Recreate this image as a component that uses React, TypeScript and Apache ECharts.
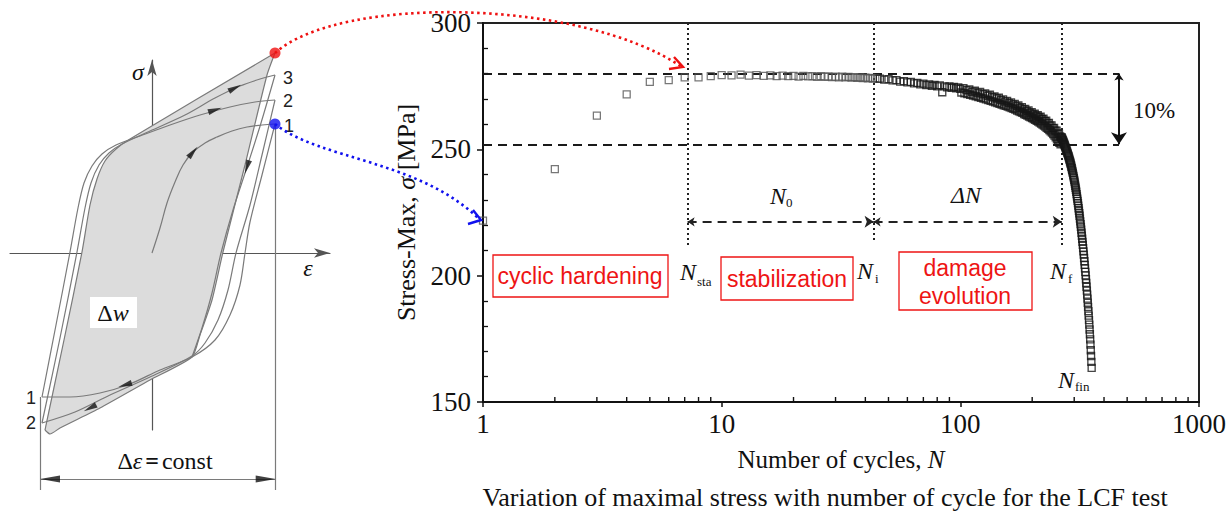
import React, { useEffect, useRef } from "react";
import * as echarts from "echarts";

// ---------------- LCF test data ----------------
// cyclic hardening
const hardeningN = [1, 2, 3, 4, 5, 6, 7];
const hardeningS = [221.8, 242.2, 263.3, 271.8, 276.7, 277.4, 278.5];
// stabilization
const stableN = [8, 9, 10, 11, 12, 13, 14, 15, 16, 17, 18, 19, 20, 21, 22, 23, 24, 25, 26, 27, 28, 29, 30, 31, 32, 33, 34, 35, 36, 37, 38, 39, 40, 41, 42, 43, 44, 45];
const stableS = [278.5, 279.0, 279.4, 279.3, 279.6, 279.2, 279.4, 279.1, 279.3, 279.0, 279.2, 279.0, 279.1, 278.8, 279.1, 278.9, 279.0, 278.7, 279.0, 278.7, 278.9, 278.6, 278.8, 278.5, 278.8, 278.5, 278.7, 278.4, 278.6, 278.3, 278.5, 278.2, 278.4, 278.1, 278.3, 278.0, 278.2, 277.9];
// damage evolution (upper side of the band)
const damageN = [46, 48, 50, 52, 54, 56, 58, 60, 62, 64, 66, 68, 70, 72, 74, 76, 78, 80, 82, 84, 86, 88, 90, 92, 94, 96, 98, 100,
  103, 106, 109, 112, 115, 118, 121, 124, 127, 130, 133, 136, 139, 142, 145, 148, 151, 154, 157, 160, 163, 166, 169, 172, 175, 178, 181, 184, 187, 190,
  193, 196, 199, 202, 205, 208, 211, 214, 217, 220, 223, 226, 229, 232, 235, 238, 241, 244, 247, 250, 253, 256, 259, 262, 265];
const damageS = [278.0, 277.6, 277.8, 277.3, 277.4, 276.8, 277.0, 276.5, 276.7, 276.1, 276.3, 275.7, 276.0, 275.4, 275.7, 275.1, 275.5, 274.9, 275.3, 272.6, 274.9, 274.5, 274.9, 274.3, 274.7, 274.1, 274.5, 273.9,
  274.2, 273.4, 273.7, 272.8, 273.2, 272.3, 272.7, 271.8, 272.1, 271.2, 271.6, 270.6, 270.9, 270.1, 270.4, 269.5, 269.8, 268.9, 269.2, 268.3, 268.6, 267.7, 268.0, 267.1, 267.4, 266.4, 266.7, 265.8, 266.0, 265.1,
  265.4, 264.4, 264.7, 263.8, 264.1, 263.2, 263.5, 262.6, 262.9, 261.9, 262.1, 261.1, 261.3, 260.3, 260.5, 259.4, 259.5, 258.4, 258.5, 257.4, 257.4, 256.3, 256.1, 255.1, 254.8];
// damage evolution (lower side of the band)
const damageLowN = [101, 104, 107, 110, 113, 116, 119, 122, 125, 128, 131, 134, 137, 140, 143, 146, 149, 152, 155, 158, 161, 164, 167, 170, 173, 176, 179, 182, 185, 188,
  191, 194, 197, 200, 203, 206, 209, 212, 215, 218, 221, 224, 227, 230, 233, 236, 239, 242, 245, 248, 251, 254, 257, 260, 263];
const damageLowS = [272.5, 272.2, 271.9, 271.6, 271.3, 271.0, 270.7, 270.4, 270.1, 269.8, 269.5, 269.2, 268.9, 268.6, 268.3, 268.0, 267.7, 267.4, 267.2, 266.9, 266.6, 266.3, 266.0, 265.7, 265.3, 265.0, 264.7, 264.4, 264.0, 263.7,
  263.4, 263.0, 262.7, 262.4, 262.0, 261.7, 261.3, 261.0, 260.6, 260.2, 259.8, 259.4, 259.0, 258.5, 258.1, 257.6, 257.1, 256.6, 256.0, 255.4, 254.8, 254.0, 253.2, 252.6, 252.0];
// final fracture
const fractureN = [266, 267, 268, 269, 270, 271, 272, 273, 274, 275, 276, 277, 278, 279, 280, 281, 282, 283, 284, 285, 286, 287, 288, 289, 290, 291, 292, 293, 294, 295,
  296, 297, 298, 299, 300, 301, 302, 303, 304, 305, 306, 307, 308, 309, 310, 311, 312, 313, 314, 315, 316, 317, 318, 319, 320, 321, 322, 323, 324, 325,
  326, 327, 328, 329, 330, 331, 332, 333, 334, 335, 336, 337, 338, 339, 340, 341, 342, 343, 344, 345, 346, 347, 348, 349, 350, 351, 352, 353, 354, 355];
const fractureS = [254.6, 254.2, 253.8, 253.5, 253.1, 252.7, 252.3, 251.9, 251.5, 251.1, 250.7, 250.3, 249.9, 249.5, 249.1, 248.6, 248.2, 247.7, 247.3, 246.8, 246.3, 245.8, 245.3, 244.8, 244.3, 243.7, 243.1, 242.5, 241.9, 241.3,
  240.7, 240.0, 239.3, 238.6, 237.9, 237.2, 236.4, 235.6, 234.8, 234.0, 233.2, 232.3, 231.4, 230.5, 229.6, 228.7, 227.7, 226.7, 225.7, 224.7, 223.7, 222.6, 221.5, 220.4, 219.3, 218.2, 217.0, 215.8, 214.6, 213.4,
  212.2, 210.9, 209.6, 208.3, 207.0, 205.7, 204.3, 202.9, 201.5, 200.1, 198.6, 197.1, 195.6, 194.1, 192.5, 190.9, 189.3, 187.6, 185.9, 184.2, 182.4, 180.6, 178.7, 176.8, 174.8, 172.7, 170.5, 168.2, 165.9, 163.5];

// axes
const yMin = 150;
const yMax = 300;
const yStep = 50;
const xMin = 1;
const xMax = 1000;
const minorTicksX = [2, 3, 4, 5, 6, 7, 8, 9, 20, 30, 40, 50, 60, 70, 80, 90, 200, 300, 400, 500, 600, 700, 800, 900];

// annotation levels
const stableStress = 280;
const dropStress = 252; // 10 % below the stabilized level
const tenPctN = 462;
const phaseBounds = [7.2, 43.3, 266]; // N_sta, N_i, N_f
const phaseGuideBottom = [211.5, 214, 212];
const phaseArrowStress = 221.3;

// ---------------- hysteresis schematic (strain / stress, arbitrary units) ----------------
const monotonicPath = [[0, 0], [8, 25], [15, 50], [23, 71], [31, 88], [41, 101], [53, 110], [65, 116], [80, 122], [95, 126], [110, 128], [123, 129]];
const loop1Down = [[123, 129], [110, 78], [98, 31], [93, 0], [88, -32], [78, -62], [63, -87], [40, -104], [8, -117], [-22, -131], [-52, -140], [-82, -144], [-110, -144]];
const loop1Up = [[-110, -144], [-96, -72], [-82, 1], [-74, 45], [-68, 70], [-60, 87], [-50, 99], [-36, 108], [-12, 117], [18, 128], [48, 138], [78, 146], [103, 151], [123, 153]];
const loop2Down = [[123, 153], [110, 98], [98, 48], [84, 0], [76, -37], [66, -67], [53, -90], [40, -103], [-2, -124], [-42, -142], [-77, -159], [-110, -170]];
const loop2Up = [[-110, -170], [-92, -85], [-75, 1], [-67, 45], [-61, 70], [-53, 88], [-43, 100], [-30, 109], [-2, 122], [33, 138], [63, 155], [88, 167], [108, 174], [123, 178]];
const loop3Down = [[123, 178], [109, 130], [95, 86], [81, 43], [69, 0], [60, -40], [50, -75], [40, -104]];
const stabDown = [[123, 200], [115, 178], [93, 88], [71, 1], [60, -47], [48, -82], [40, -104], [-2, -127], [-52, -155], [-92, -175], [-102, -181], [-107, -177]];
const stabUp = [[-107, -177], [-88, -87], [-70, 1], [-62, 48], [-55, 74], [-47, 92], [-36, 104], [-22, 114], [123, 200]];
const loopArrows = [
  { value: [41, 101], symbolRotate: -40 },
  { value: [95, 86], symbolRotate: 162 },
  { value: [-27, -132], symbolRotate: 107 },
  { value: [63, 143], symbolRotate: -72 },
  { value: [-62, -155], symbolRotate: 117 },
  { value: [83, 165], symbolRotate: -63 },
];
const firstPeak = [123, 129];
const stabPeak = [123, 200];
const strainMaxX = 123.7;
const strainMinX = -112;
const dimLineY = -226;
const dimBottomY = -237;

const SERIF = "'Liberation Serif', 'Times New Roman', serif";
const SANS = "'Liberation Sans', Arial, sans-serif";
const RED = "#ee1414";

const pair = (xs: number[], ys: number[]) => xs.map((x, i) => [x, ys[i]]);

const txt = (x: number, y: number, text: string, font: string, fill = "#111", align = "left", extra: any = {}) => ({
  type: "text",
  x,
  y,
  z: 100,
  style: { text, font, fill, align, verticalAlign: "middle", ...extra },
});

const schemLine = (data: number[][], smooth = 0.3) => ({
  type: "line",
  xAxisIndex: 1,
  yAxisIndex: 2,
  data,
  smooth,
  symbol: "none",
  clip: false,
  silent: true,
  z: 3,
  lineStyle: { color: "#7a7a7a", width: 1.2 },
});

const dataSeries = (data: number[][], color: string, width: number) => ({
  type: "scatter",
  xAxisIndex: 0,
  yAxisIndex: 0,
  data,
  symbol: "rect",
  symbolSize: 7,
  z: 5,
  silent: true,
  itemStyle: { color: "rgba(0,0,0,0)", borderColor: color, borderWidth: width },
});

function buildOption() {
  const earlyData = [...pair(hardeningN, hardeningS), ...pair(stableN, stableS)];
  const lateData = [...pair(damageN, damageS), ...pair(damageLowN, damageLowS), ...pair(fractureN, fractureS)];
  const shadePts = [...stabDown, ...stabUp.slice(1)];
  return {
    animation: false,
    backgroundColor: "#fff",
    textStyle: { fontFamily: SERIF },
    grid: [
      { left: 483, top: 23, width: 717, height: 379, show: true, borderColor: "#222", borderWidth: 2, backgroundColor: "transparent" },
      { left: 10, top: 60, width: 320, height: 370, show: false },
    ],
    xAxis: [
      {
        type: "log",
        logBase: 10,
        gridIndex: 0,
        min: xMin,
        max: xMax,
        name: "Number of cycles, {i|N}",
        nameLocation: "middle",
        nameGap: 45,
        nameTextStyle: {
          fontFamily: SERIF,
          fontSize: 25,
          color: "#111",
          rich: { i: { fontStyle: "italic", fontFamily: SERIF, fontSize: 25, color: "#111" } },
        },
        axisLine: { lineStyle: { color: "#111", width: 2 } },
        axisTick: { length: 5, lineStyle: { color: "#111", width: 1.5 } },
        axisLabel: { fontFamily: SERIF, fontSize: 27, color: "#111", margin: 8, formatter: (v: number) => String(v) },
        splitLine: { show: false },
      },
      {
        type: "value",
        gridIndex: 1,
        min: -142,
        max: 178,
        axisLine: { onZero: true, symbol: ["none", "arrow"], symbolSize: [7, 16], lineStyle: { color: "#555", width: 1.2 } },
        axisTick: { show: false },
        axisLabel: { show: false },
        splitLine: { show: false },
      },
    ],
    yAxis: [
      {
        type: "value",
        gridIndex: 0,
        min: yMin,
        max: yMax,
        interval: yStep,
        name: "Stress-Max, {i|σ} [MPa]",
        nameLocation: "middle",
        nameRotate: 90,
        nameGap: 63,
        nameTextStyle: {
          fontFamily: SERIF,
          fontSize: 26,
          color: "#111",
          rich: { i: { fontStyle: "italic", fontFamily: SERIF, fontSize: 26, color: "#111" } },
        },
        axisLine: { lineStyle: { color: "#111", width: 2 } },
        axisTick: { length: 6, lineStyle: { color: "#111", width: 1.5 } },
        axisLabel: { fontFamily: SERIF, fontSize: 27, color: "#111", margin: 12 },
        splitLine: { show: false },
      },
      {
        type: "value",
        gridIndex: 0,
        min: yMin,
        max: yMax,
        interval: yStep,
        position: "left",
        axisLine: { show: false },
        axisTick: { show: false, inside: true },
        minorTick: { show: true, splitNumber: 5, length: 5, lineStyle: { color: "#111", width: 1.3 } },
        axisLabel: { show: false },
        splitLine: { show: false },
      },
      {
        type: "value",
        gridIndex: 1,
        min: -177,
        max: 193,
        axisLine: { onZero: true, symbol: ["none", "arrow"], symbolSize: [7, 16], lineStyle: { color: "#555", width: 1.2 } },
        axisTick: { show: false },
        axisLabel: { show: false },
        splitLine: { show: false },
      },
    ],
    series: [
      // ----- main chart -----
      dataSeries(earlyData, "#555", 1.25),
      dataSeries(lateData, "#161616", 1.35),
      {
        type: "custom",
        xAxisIndex: 0,
        yAxisIndex: 0,
        data: minorTicksX.map((v) => [v, yMin]),
        silent: true,
        z: 6,
        renderItem: (params: any, api: any) => {
          const p = api.coord([api.value(0), api.value(1)]);
          return { type: "line", shape: { x1: p[0], y1: p[1], x2: p[0], y2: p[1] - 5 }, style: { stroke: "#111", lineWidth: 1.4 } };
        },
      },
      {
        type: "lines",
        coordinateSystem: "cartesian2d",
        xAxisIndex: 0,
        yAxisIndex: 0,
        clip: false,
        silent: true,
        z: 3,
        symbol: "none",
        lineStyle: { color: "#1a1a1a", width: 2.2, type: [9, 6], opacity: 1 },
        data: [
          { coords: [[xMin, stableStress], [tenPctN, stableStress]] },
          { coords: [[xMin, dropStress], [tenPctN, dropStress]] },
        ],
      },
      {
        type: "lines",
        coordinateSystem: "cartesian2d",
        xAxisIndex: 0,
        yAxisIndex: 0,
        clip: false,
        silent: true,
        z: 3,
        symbol: "none",
        lineStyle: { color: "#222", width: 2, type: [2, 3], opacity: 1 },
        data: phaseBounds.map((n, i) => ({ coords: [[n, yMax], [n, phaseGuideBottom[i]]] })),
      },
      {
        type: "lines",
        coordinateSystem: "cartesian2d",
        xAxisIndex: 0,
        yAxisIndex: 0,
        clip: false,
        silent: true,
        z: 3,
        symbol: ["arrow", "arrow"],
        symbolSize: [7, 9],
        lineStyle: { color: "#222", width: 2, type: [9, 6], opacity: 1 },
        data: [
          { coords: [[phaseBounds[0], phaseArrowStress], [phaseBounds[1], phaseArrowStress]] },
          { coords: [[phaseBounds[1], phaseArrowStress], [phaseBounds[2], phaseArrowStress]] },
        ],
      },
      {
        type: "lines",
        coordinateSystem: "cartesian2d",
        xAxisIndex: 0,
        yAxisIndex: 0,
        clip: false,
        silent: true,
        z: 3,
        symbol: ["arrow", "arrow"],
        symbolSize: [7, 12],
        lineStyle: { color: "#111", width: 2, type: "solid", opacity: 1 },
        data: [{ coords: [[tenPctN, stableStress], [tenPctN, dropStress]] }],
      },
      // ----- hysteresis schematic -----
      {
        type: "custom",
        xAxisIndex: 1,
        yAxisIndex: 2,
        data: [[0, 0]],
        silent: true,
        z: 1,
        renderItem: (params: any, api: any) => ({
          type: "polygon",
          shape: { points: shadePts.map((p) => api.coord(p)), smooth: 0.2 },
          style: { fill: "#dcdcdc", stroke: "none" },
        }),
      },
      schemLine(monotonicPath, 0.4),
      schemLine(loop1Down),
      schemLine(loop1Up),
      schemLine(loop2Down),
      schemLine(loop2Up),
      schemLine(loop3Down),
      schemLine(stabDown, 0.2),
      schemLine(stabUp, 0.25),
      {
        type: "lines",
        coordinateSystem: "cartesian2d",
        xAxisIndex: 1,
        yAxisIndex: 2,
        clip: false,
        silent: true,
        z: 3,
        symbol: "none",
        lineStyle: { color: "#7a7a7a", width: 1.2, opacity: 1 },
        data: [
          { coords: [[strainMaxX, firstPeak[1]], [strainMaxX, dimBottomY]] },
          { coords: [[strainMinX, loop1Down[loop1Down.length - 1][1]], [strainMinX, dimBottomY]] },
          { coords: [[strainMinX, dimLineY], [strainMaxX, dimLineY]] },
        ],
      },
      {
        // arrow heads of the strain-range dimension line
        type: "scatter",
        xAxisIndex: 1,
        yAxisIndex: 2,
        clip: false,
        silent: true,
        z: 4,
        symbol: "triangle",
        symbolSize: [7, 20],
        itemStyle: { color: "#111" },
        data: [
          { value: [strainMinX + 10, dimLineY], symbolRotate: 90 },
          { value: [strainMaxX - 10, dimLineY], symbolRotate: -90 },
        ],
      },
      {
        type: "scatter",
        xAxisIndex: 1,
        yAxisIndex: 2,
        clip: false,
        silent: true,
        z: 4,
        symbol: "triangle",
        symbolSize: [6, 14],
        itemStyle: { color: "#111" },
        data: loopArrows,
      },
      {
        type: "scatter",
        xAxisIndex: 1,
        yAxisIndex: 2,
        clip: false,
        silent: true,
        z: 6,
        symbol: "circle",
        symbolSize: 11,
        data: [
          { value: stabPeak, itemStyle: { color: "#f01010" } },
          { value: firstPeak, itemStyle: { color: "#1010f0" } },
        ],
      },
    ],
    graphic: [
      // phase boxes
      { type: "rect", z: 100, shape: { x: 493, y: 255, width: 175, height: 42 }, style: { fill: "none", stroke: RED, lineWidth: 1.3 } },
      { type: "rect", z: 100, shape: { x: 721, y: 257, width: 132, height: 43 }, style: { fill: "none", stroke: RED, lineWidth: 1.3 } },
      { type: "rect", z: 100, shape: { x: 899, y: 252, width: 133, height: 58 }, style: { fill: "none", stroke: RED, lineWidth: 1.3 } },
      txt(580, 276, "cyclic hardening", `23px ${SANS}`, RED, "center"),
      txt(787, 279, "stabilization", `23px ${SANS}`, RED, "center"),
      txt(965, 268, "damage", `23px ${SANS}`, RED, "center"),
      txt(965, 296, "evolution", `23px ${SANS}`, RED, "center"),
      // N labels
      txt(680, 272, "N", `italic 24px ${SERIF}`),
      txt(697, 281, "sta", `13px ${SERIF}`),
      txt(857, 271, "N", `italic 24px ${SERIF}`),
      txt(875, 278, "i", `13px ${SERIF}`),
      txt(1050, 271, "N", `italic 24px ${SERIF}`),
      txt(1068, 278, "f", `13px ${SERIF}`),
      txt(1058, 380, "N", `italic 24px ${SERIF}`),
      txt(1075, 386, "fin", `13px ${SERIF}`),
      txt(770, 196, "N", `italic 24px ${SERIF}`),
      txt(786, 202, "0", `13px ${SERIF}`),
      txt(951, 195, "ΔN", `italic 24px ${SERIF}`),
      txt(1133, 110, "10%", `23px ${SERIF}`),
      // caption
      txt(825, 497, "Variation of maximal stress with number of cycle for the LCF test", `26px ${SERIF}`, "#111", "center"),
      // schematic labels
      txt(138, 72, "σ", `italic 24px ${SERIF}`, "#111", "center"),
      txt(308, 268, "ε", `italic 24px ${SERIF}`, "#111", "center"),
      txt(288, 78, "3", `18px ${SANS}`, "#222", "center"),
      txt(288, 101, "2", `18px ${SANS}`, "#222", "center"),
      txt(289, 126, "1", `18px ${SANS}`, "#222", "center"),
      txt(31, 398, "1", `18px ${SANS}`, "#222", "center"),
      txt(31, 423, "2", `18px ${SANS}`, "#222", "center"),
      { type: "rect", z: 99, shape: { x: 90, y: 297, width: 47, height: 31 }, style: { fill: "#fff" } },
      {
        type: "text",
        x: 113,
        y: 313,
        z: 100,
        style: {
          text: "{a|Δ}{b|w}",
          align: "center",
          verticalAlign: "middle",
          rich: { a: { font: `24px ${SERIF}`, fill: "#111" }, b: { font: `italic 24px ${SERIF}`, fill: "#111" } },
        },
      },
      {
        type: "text",
        x: 165,
        y: 461,
        z: 100,
        style: {
          text: "{a|Δ}{b|ε}{c|=}{a|const}",
          align: "center",
          verticalAlign: "middle",
          rich: {
            a: { font: `24px ${SERIF}`, fill: "#111" },
            b: { font: `italic 24px ${SERIF}`, fill: "#111" },
            c: { font: `bold 24px ${SERIF}`, fill: "#111", padding: [0, 3, 0, 3] },
          },
        },
      },
      // connecting dotted arrows
      {
        type: "bezierCurve",
        z: 100,
        shape: { x1: 275, y1: 53, cpx1: 340, cpy1: -5, cpx2: 580, cpy2: -2, x2: 682, y2: 67 },
        style: { stroke: "#ee1111", lineWidth: 2.6, lineDash: [2.5, 3.5], fill: "none" },
      },
      { type: "polyline", z: 100, shape: { points: [[669, 69], [683, 67], [674, 57]] }, style: { stroke: "#ee1111", lineWidth: 2.4, fill: "none" } },
      {
        type: "bezierCurve",
        z: 100,
        shape: { x1: 275, y1: 124, cpx1: 320, cpy1: 160, cpx2: 420, cpy2: 160, x2: 480, y2: 220 },
        style: { stroke: "#1111ee", lineWidth: 2.6, lineDash: [2.5, 3.5], fill: "none" },
      },
      { type: "polyline", z: 100, shape: { points: [[473, 210], [481, 220], [468, 224]] }, style: { stroke: "#1111ee", lineWidth: 2.4, fill: "none" } },
    ],
  };
}

export default function App() {
  const ref = useRef<HTMLDivElement>(null);
  useEffect(() => {
    if (!ref.current) return;
    const chart = echarts.init(ref.current, null, { renderer: "svg" });
    chart.setOption(buildOption() as any);
    return () => chart.dispose();
  }, []);
  return (
    <div
      ref={ref}
      style={{ position: "fixed", left: 0, top: 0, width: 1229, height: 515, background: "#fff" }}
    />
  );
}
